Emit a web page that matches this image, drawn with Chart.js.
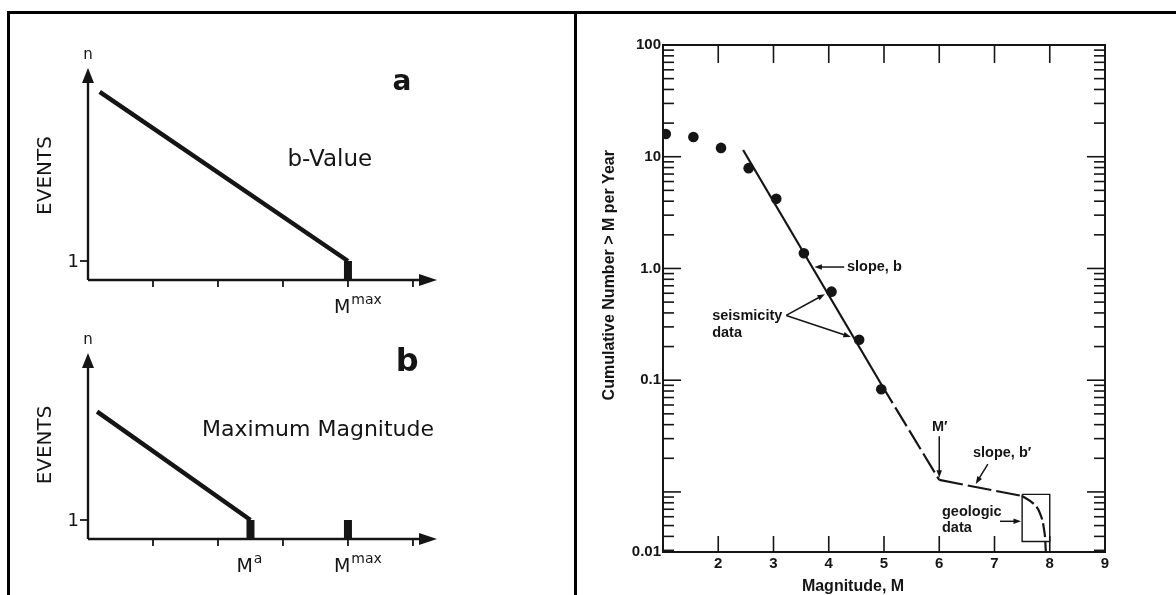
<!DOCTYPE html>
<html>
<head>
<meta charset="utf-8">
<script src="https://cdn.jsdelivr.net/npm/chart.js@4.4.1/dist/chart.umd.min.js"></script>
<style>
  html, body { margin: 0; padding: 0; background: #fff; }
  body { width: 1176px; height: 595px; position: relative; overflow: hidden; }
  .rule { position: absolute; background: #000; }
  .panel { position: absolute; }
</style>
</head>
<body>
<div class="rule" style="left:7px;top:11px;width:1169px;height:3px"></div>
<div class="rule" style="left:7px;top:11px;width:3px;height:584px"></div>
<div class="rule" style="left:574px;top:11px;width:3px;height:584px"></div>

<div class="panel" style="left:10px;top:14px;width:564px;height:306px"><canvas id="chart-a"></canvas></div>
<div class="panel" style="left:10px;top:320px;width:564px;height:275px"><canvas id="chart-b"></canvas></div>
<div class="panel" style="left:578px;top:14px;width:598px;height:581px"><canvas id="chart-rate"></canvas></div>

<script>
// ---- panel a / b : schematic recurrence (sketch units) ----
const sketchTicks = [1, 2, 3, 4, 5];
const lineA_M = [0.18, 4];
const lineA_N = [9.9, 1];
const mMaxA = 4;
const lineB_M = [0.14, 2.5];
const lineB_N = [6.7, 1];
const mAB = 2.5;
const mMaxB = 4;

// ---- right panel : cumulative number > M per year ----
const magnitudes = [1.05, 1.55, 2.05, 2.55, 3.05, 3.55, 4.05, 4.55, 4.95];
const rates = [16, 15, 12, 7.9, 4.2, 1.37, 0.62, 0.23, 0.083];
const fitM = [2.45, 4.95];
const fitN = [11.5, 0.092];
const extM = [4.95, 6.0];
const extN = [0.092, 0.0128];
const bPrimeM = [6.0, 7.5];
const bPrimeN = [0.0128, 0.0092];
const geoM = [7.5, 7.7, 7.82, 7.9, 7.93];
const geoN = [0.0092, 0.0079, 0.0065, 0.0045, 0.0029];
const geoBoxM = [7.5, 8.0, 8.0, 7.5, 7.5];
const geoBoxN = [0.0095, 0.0095, 0.0036, 0.0036, 0.0095];
const xTicks = [2, 3, 4, 5, 6, 7, 8, 9];
// the printed figure puts "0.01" at the foot of the axis
const yTickVals = [100, 10, 1, 0.1, 0.0029];
const yTickLabels = ['100', '10', '1.0', '0.1', '0.01'];

const INK = '#151515';
const SKETCH_FONT = '"DejaVu Sans", sans-serif';
const PLOT_FONT = '"Liberation Sans", Arial, sans-serif';

const zip = (xs, ys) => xs.map((v, i) => ({ x: v, y: ys[i] }));

function seg(ctx, x1, y1, x2, y2) {
  ctx.beginPath(); ctx.moveTo(x1, y1); ctx.lineTo(x2, y2); ctx.stroke();
}
function arrow(ctx, x1, y1, x2, y2, head) {
  const ang = Math.atan2(y2 - y1, x2 - x1);
  seg(ctx, x1, y1, x2 - Math.cos(ang) * head * 0.8, y2 - Math.sin(ang) * head * 0.8);
  ctx.beginPath();
  ctx.moveTo(x2, y2);
  ctx.lineTo(x2 - head * Math.cos(ang - 0.35), y2 - head * Math.sin(ang - 0.35));
  ctx.lineTo(x2 - head * Math.cos(ang + 0.35), y2 - head * Math.sin(ang + 0.35));
  ctx.closePath(); ctx.fill();
}

// axes, arrows and labels of the two sketch panels
const sketchAxes = {
  id: 'sketchAxes',
  beforeDatasetsDraw(chart, args, o) {
    const { ctx, chartArea: a, scales: { x, y } } = chart;
    const x0 = x.getPixelForValue(0), y0 = y.getPixelForValue(0);
    ctx.save();
    ctx.strokeStyle = INK; ctx.fillStyle = INK; ctx.lineWidth = 2.4;
    seg(ctx, x0, a.top + 10, x0, y0);
    seg(ctx, x0, y0, a.right - 12, y0);
    ctx.beginPath(); ctx.moveTo(x0, a.top); ctx.lineTo(x0 - 6, a.top + 15); ctx.lineTo(x0 + 6, a.top + 15); ctx.fill();
    ctx.beginPath(); ctx.moveTo(a.right, y0); ctx.lineTo(a.right - 18, y0 - 6); ctx.lineTo(a.right - 18, y0 + 6); ctx.fill();
    ctx.lineWidth = 1.8;
    sketchTicks.forEach(t => { const px = x.getPixelForValue(t); seg(ctx, px, y0, px, y0 + 7); });
    const p1 = y.getPixelForValue(1);
    seg(ctx, x0 - 8, p1, x0, p1);

    ctx.textBaseline = 'middle';
    ctx.textAlign = 'right';
    ctx.font = '18px ' + SKETCH_FONT;
    ctx.fillText('1', x0 - 9, p1 + 1);
    ctx.textAlign = 'center';
    ctx.font = '15px ' + SKETCH_FONT;
    ctx.fillText('n', x0, a.top - 13);

    ctx.save();
    ctx.translate(x.getPixelForValue(-0.65), y.getPixelForValue(o.eventsAt));
    ctx.rotate(-Math.PI / 2);
    ctx.font = '20px ' + SKETCH_FONT;
    ctx.fillText('EVENTS', 0, 0);
    ctx.restore();

    ctx.font = 'bold ' + o.letterSize + 'px ' + SKETCH_FONT;
    ctx.fillText(o.letter, x.getPixelForValue(o.letterAt[0]), y.getPixelForValue(o.letterAt[1]));
    ctx.font = o.captionSize + 'px ' + SKETCH_FONT;
    ctx.fillText(o.caption, x.getPixelForValue(o.captionAt[0]), y.getPixelForValue(o.captionAt[1]));

    ctx.textBaseline = 'alphabetic';
    ctx.textAlign = 'left';
    o.mLabels.forEach(m => {
      const px = x.getPixelForValue(m.value) - 14;
      ctx.font = '19px ' + SKETCH_FONT;
      ctx.fillText('M', px, y0 + 33);
      const w = ctx.measureText('M').width;
      ctx.font = '14px ' + SKETCH_FONT;
      ctx.fillText(m.sup, px + w + 1, y0 + 24);
    });
    ctx.restore();
  }
};

function sketchChart(id, lineM, lineN, bars, yMax, pad, opts) {
  const datasets = [{
    data: zip(lineM, lineN),
    borderColor: INK, borderWidth: 4.5, pointRadius: 0, borderCapStyle: 'butt'
  }];
  bars.forEach(b => datasets.push({
    data: [{ x: b, y: 0 }, { x: b, y: 1 }],
    borderColor: INK, borderWidth: 8, pointRadius: 0, borderCapStyle: 'butt'
  }));
  return new Chart(document.getElementById(id), {
    type: 'line',
    data: { datasets },
    plugins: [sketchAxes],
    options: {
      responsive: true, maintainAspectRatio: false, animation: false, events: [],
      layout: { padding: pad },
      plugins: { legend: { display: false }, tooltip: { enabled: false }, sketchAxes: opts },
      scales: {
        x: { type: 'linear', display: false, min: 0, max: 5.37, offset: false },
        y: { type: 'linear', display: false, min: 0, max: yMax }
      }
    }
  });
}

sketchChart('chart-a', lineA_M, lineA_N, [mMaxA], 11.16,
  { left: 78, right: 137, top: 54, bottom: 40 },
  { letter: 'a', letterSize: 28, letterAt: [4.83, 10.37], caption: 'b-Value', captionSize: 23,
    captionAt: [3.72, 6.3], eventsAt: 5.5, mLabels: [{ value: mMaxA, sup: 'max' }] });

sketchChart('chart-b', lineB_M, lineB_N, [mAB, mMaxB], 9.79,
  { left: 78, right: 137, top: 33, bottom: 56 },
  { letter: 'b', letterSize: 32, letterAt: [4.91, 9.3], caption: 'Maximum Magnitude', captionSize: 22,
    captionAt: [3.54, 5.74], eventsAt: 4.95, mLabels: [{ value: mAB, sup: 'a' }, { value: mMaxB, sup: 'max' }] });

// frame, log ticks, labels and notes of the right panel
const logFrame = {
  id: 'logFrame',
  beforeDatasetsDraw(chart) {
    const { ctx, chartArea: a, scales: { x, y } } = chart;
    ctx.save();
    ctx.strokeStyle = INK; ctx.fillStyle = INK; ctx.lineWidth = 2;
    ctx.strokeRect(a.left, a.top, a.right - a.left, a.bottom - a.top);
    ctx.lineWidth = 1.6;
    for (let d = -3; d <= 1; d++) {
      for (let k = 1; k <= 9; k++) {
        const v = k * Math.pow(10, d);
        if (v < y.min || v > y.max) continue;
        const py = y.getPixelForValue(v), len = k === 1 ? 18 : 11;
        seg(ctx, a.left, py, a.left + len, py);
        seg(ctx, a.right - len, py, a.right, py);
      }
    }
    xTicks.forEach(m => {
      if (m >= x.max) return;
      const px = x.getPixelForValue(m);
      seg(ctx, px, a.top, px, a.top + 18);
      seg(ctx, px, a.bottom, px, a.bottom - 16);
    });

    ctx.font = 'bold 15px ' + PLOT_FONT;
    ctx.textAlign = 'right'; ctx.textBaseline = 'middle';
    yTickVals.forEach((v, i) => ctx.fillText(yTickLabels[i], a.left - 2, y.getPixelForValue(v)));
    ctx.textAlign = 'center'; ctx.textBaseline = 'top';
    xTicks.forEach(m => ctx.fillText(String(m), x.getPixelForValue(m), a.bottom + 4));

    ctx.font = 'bold 16px ' + PLOT_FONT;
    ctx.textBaseline = 'middle';
    ctx.fillText('Magnitude, M', (a.left + a.right) / 2 - 31, a.bottom + 35);
    ctx.save();
    ctx.translate(a.left - 53, y.getPixelForValue(0.87));
    ctx.rotate(-Math.PI / 2);
    ctx.fillText('Cumulative Number > M per Year', 0, 0);
    ctx.restore();
    ctx.restore();
  },
  afterDatasetsDraw(chart) {
    const { ctx, scales: { x, y } } = chart;
    const P = (m, n) => [x.getPixelForValue(m), y.getPixelForValue(n)];
    ctx.save();
    ctx.fillStyle = INK; ctx.strokeStyle = INK; ctx.lineWidth = 1.5;
    ctx.font = 'bold 14.5px ' + PLOT_FONT;
    ctx.textBaseline = 'middle'; ctx.textAlign = 'left';
    const txt = (s, m, n) => { const [px, py] = P(m, n); ctx.fillText(s, px, py); };
    const arr = (m1, n1, m2, n2) => { const [a1, b1] = P(m1, n1), [a2, b2] = P(m2, n2); arrow(ctx, a1, b1, a2, b2, 8); };

    txt('slope, b', 4.33, 1.03);
    arr(4.28, 1.03, 3.74, 1.03);

    txt('seismicity', 1.89, 0.374);
    txt('data', 1.89, 0.264);
    arr(3.23, 0.38, 3.93, 0.589);
    arr(3.23, 0.38, 4.4, 0.243);

    ctx.textAlign = 'center';
    txt('M\u2032', 6.01, 0.038);
    arr(6.0, 0.0315, 6.0, 0.0134);

    ctx.textAlign = 'left';
    txt('slope, b\u2032', 6.61, 0.0222);
    arr(6.88, 0.0177, 6.66, 0.0118);

    txt('geologic', 6.05, 0.00658);
    txt('data', 6.05, 0.00473);
    arr(7.1, 0.00546, 7.48, 0.00546);
    ctx.restore();
  }
};

const lineStyle = { borderColor: INK, pointRadius: 0, borderWidth: 2.2, fill: false };

new Chart(document.getElementById('chart-rate'), {
  type: 'line',
  data: {
    datasets: [
      { data: zip(magnitudes, rates), showLine: false, pointRadius: 5.3, pointBorderWidth: 0,
        pointBackgroundColor: INK, borderColor: INK },
      { ...lineStyle, data: zip(fitM, fitN) },
      { ...lineStyle, data: zip(extM, extN), borderDash: [22, 5] },
      { ...lineStyle, data: zip(bPrimeM, bPrimeN), borderDash: [24, 5] },
      { ...lineStyle, data: zip(geoM, geoN), borderDash: [14, 4], tension: 0.45 },
      { ...lineStyle, data: zip(geoBoxM, geoBoxN), borderWidth: 1.4 }
    ]
  },
  plugins: [logFrame],
  options: {
    responsive: true, maintainAspectRatio: false, animation: false, events: [],
    layout: { padding: { left: 85, top: 31, right: 71, bottom: 43 } },
    plugins: { legend: { display: false }, tooltip: { enabled: false } },
    scales: {
      x: { type: 'linear', display: false, min: 1, max: 9 },
      y: { type: 'logarithmic', display: false, min: 0.0029, max: 100 }
    }
  }
});
</script>
</body>
</html>
